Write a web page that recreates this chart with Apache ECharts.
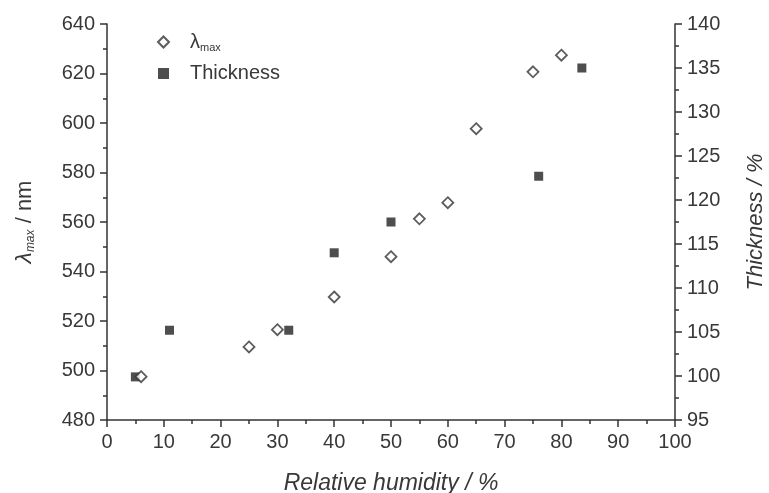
<!DOCTYPE html>
<html>
<head>
<meta charset="utf-8">
<script src="https://cdn.jsdelivr.net/npm/echarts@6/dist/echarts.min.js"></script>
<style>html,body{margin:0;padding:0;background:#fff}#c{width:769px;height:493px}</style>
</head>
<body>
<div id="c"></div>
<script>
const humidityLambda = [6, 25, 30, 40, 50, 55, 60, 65, 75, 80];
const lambdaMax = [497.5, 509.5, 516.5, 529.7, 546, 561.3, 567.8, 597.7, 620.7, 627.4];
const humidityThick = [5, 11, 32, 40, 50, 76, 83.6];
const thickness = [99.9, 105.2, 105.2, 114, 117.5, 122.7, 135];

const font = 'Liberation Sans, Arial, sans-serif';
const axisColor = '#333';
const labelColor = '#383838';

const chart = echarts.init(document.getElementById('c'), null, {renderer: 'canvas'});
function axisCommon() {
  return {
    axisLine: {show: true, lineStyle: {color: axisColor, width: 1.5}},
    axisTick: {show: true, inside: false, length: 7, lineStyle: {color: axisColor, width: 1.5}},
    minorTick: {show: true, splitNumber: 2, length: 4, lineStyle: {color: axisColor, width: 1.5}},
    splitLine: {show: false},
    axisLabel: {color: labelColor, fontSize: 20, fontFamily: font, margin: 12}
  };
}
const option = {
  animation: false,
  backgroundColor: '#fff',
  grid: {left: 107, right: 94, top: 24, bottom: 73, containLabel: false, outerBoundsMode: 'none'},
  legend: {
    orient: 'vertical', left: 152, top: 27, itemGap: 10,
    itemWidth: 11, itemHeight: 11,
    textStyle: {color: labelColor, fontSize: 20, fontFamily: font, padding: [0, 0, 0, 16],
      rich: {l: {fontSize: 20, fontFamily: font, color: labelColor}, s: {fontSize: 11, fontFamily: font, color: labelColor, verticalAlign: 'bottom', padding: [12, 0, 0, 0]}}},
    formatter: function (n) { return n === 'lambda' ? '{l|λ}{s|max}' : n; },
    data: [{name: 'lambda', icon: 'diamond'}, {name: 'Thickness', icon: 'rect'}]
  },
  xAxis: Object.assign(axisCommon(), {
    type: 'value', min: 0, max: 100, interval: 10,
    name: 'Relative humidity / %', nameLocation: 'middle', nameGap: 52,
    nameTextStyle: {fontSize: 23, fontStyle: 'italic', fontFamily: font, color: labelColor}
  }),
  yAxis: [
    Object.assign(axisCommon(), {
      type: 'value', min: 480, max: 640, interval: 20, position: 'left',
      name: '{l|λ}{s|max}{n| / nm}', nameLocation: 'middle', nameGap: 70, nameRotate: 90,
      nameTextStyle: {color: labelColor, fontFamily: font, rich: {
        l: {fontSize: 23, fontStyle: 'italic', fontFamily: font, color: labelColor},
        s: {fontSize: 12, fontStyle: 'italic', fontFamily: font, color: labelColor, verticalAlign: 'bottom', padding: [12, 0, 0, 0]},
        n: {fontSize: 22, fontFamily: font, color: labelColor}
      }}
    }),
    Object.assign(axisCommon(), {
      type: 'value', min: 95, max: 140, interval: 5, position: 'right',
      name: 'Thickness / %', nameLocation: 'middle', nameGap: 70, nameRotate: 90,
      nameTextStyle: {fontSize: 22, fontStyle: 'italic', fontFamily: font, color: labelColor}
    })
  ],
  series: [
    {
      name: 'lambda', type: 'scatter', yAxisIndex: 0,
      symbol: 'diamond', symbolSize: 11,
      itemStyle: {color: '#fff', borderColor: '#333', borderWidth: 1.8},
      data: humidityLambda.map((h, i) => [h, lambdaMax[i]]),
      z: 3
    },
    {
      name: 'Thickness', type: 'scatter', yAxisIndex: 1,
      symbol: 'rect', symbolSize: 9,
      itemStyle: {color: '#222', borderColor: '#222', borderWidth: 0},
      data: humidityThick.map((h, i) => [h, thickness[i]]),
      z: 2
    }
  ]
};
chart.setOption(option);
</script>
</body>
</html>
